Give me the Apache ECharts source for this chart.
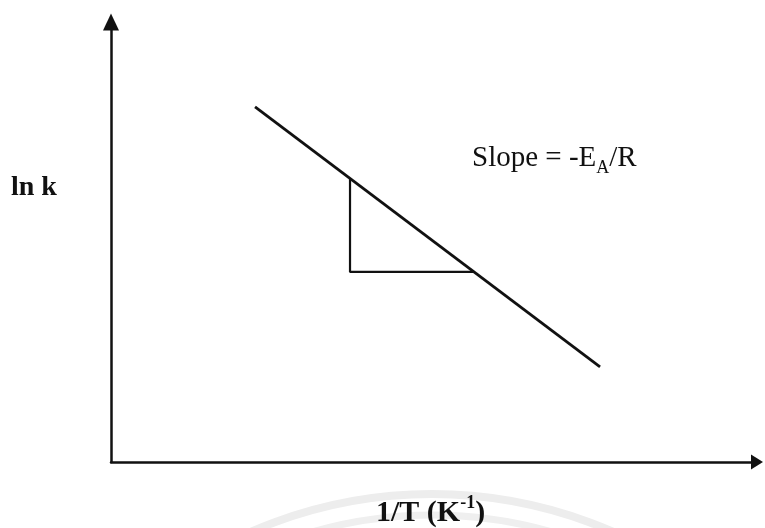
<!DOCTYPE html>
<html>
<head>
<meta charset="utf-8">
<title>Arrhenius plot</title>
<script src="https://cdn.jsdelivr.net/npm/echarts@6/dist/echarts.min.js"></script>
<style>
  html, body { margin: 0; padding: 0; background: #ffffff; }
  #chart { width: 765px; height: 528px; }
</style>
</head>
<body>
<div id="chart"></div>
<script>
// Schematic Arrhenius line: ln k against 1/T (arbitrary units, 0..100 on each axis)
const lineX = [22.3, 75.7];
const lineY = [80.7, 21.6];

// Slope triangle drawn under the line: top corner, right angle, right corner
const triX = [37.0, 37.0, 56.2];
const triY = [64.4, 43.2, 43.2];

const xAxisTitle = '1/T';
const yAxisTitle = 'ln k';
const slopeLabel = 'Slope = -E';

const FONT = '"Liberation Serif", "Times New Roman", serif';
const INK = '#111111';

const pairs = (xs, ys) => xs.map((x, i) => [x, ys[i]]);

const chart = echarts.init(document.getElementById('chart'), null, { renderer: 'canvas' });

chart.setOption({
  backgroundColor: '#ffffff',
  animation: false,
  grid: { left: 111, right: 8, top: 22, bottom: 66 },
  xAxis: {
    type: 'value', min: 0, max: 100,
    axisLine: {
      show: true, onZero: false,
      symbol: ['none', 'triangle'], symbolSize: [15, 12],
      lineStyle: { color: INK, width: 2.5 }
    },
    axisTick: { show: false }, axisLabel: { show: false }, splitLine: { show: false }
  },
  yAxis: {
    type: 'value', min: 0, max: 100,
    axisLine: {
      show: true, onZero: false,
      symbol: ['none', 'triangle'], symbolSize: [16, 17],
      lineStyle: { color: INK, width: 2.5 }
    },
    axisTick: { show: false }, axisLabel: { show: false }, splitLine: { show: false }
  },
  series: [
    {
      type: 'line', data: pairs(lineX, lineY), symbol: 'none',
      lineStyle: { color: INK, width: 2.8 }, silent: true
    },
    {
      type: 'line', data: pairs(triX, triY), symbol: 'none',
      lineStyle: { color: INK, width: 2.2 }, silent: true
    }
  ],
  graphic: [
    // faint circular seal printed under the axis title
    {
      type: 'arc', silent: true, z: -1,
      shape: { cx: 432, cy: 947, r: 453, startAngle: Math.PI * 1.28, endAngle: Math.PI * 1.72 },
      style: { stroke: '#ededed', lineWidth: 8, fill: null }
    },
    {
      type: 'arc', silent: true, z: -1,
      shape: { cx: 432, cy: 947, r: 432, startAngle: Math.PI * 1.3, endAngle: Math.PI * 1.7 },
      style: { stroke: '#efefef', lineWidth: 7, fill: null }
    },
    {
      type: 'text', left: 11, top: 174, z: 10,
      style: { text: yAxisTitle, font: 'bold 28px ' + FONT, fill: INK }
    },
    {
      type: 'text', left: 472, top: 144, z: 10,
      style: {
        text: '{a|' + slopeLabel + '}{s|A}{a|/R}',
        fill: INK,
        rich: {
          a: { fontFamily: FONT, fontSize: 29, color: INK, lineHeight: 32, verticalAlign: 'bottom' },
          s: { fontFamily: FONT, fontSize: 18, color: INK, lineHeight: 32, verticalAlign: 'bottom', padding: [0, 0, -4, 0] }
        }
      }
    },
    {
      type: 'text', left: 376, top: 494, z: 10,
      style: {
        text: '{a|' + xAxisTitle + ' (K}{p|-1}{a|)}',
        fill: INK,
        rich: {
          a: { fontFamily: FONT, fontSize: 30, fontWeight: 'bold', color: INK, lineHeight: 34, verticalAlign: 'bottom' },
          p: { fontFamily: FONT, fontSize: 18, fontWeight: 'bold', color: INK, lineHeight: 34, verticalAlign: 'top' }
        }
      }
    }
  ]
});
</script>
</body>
</html>
